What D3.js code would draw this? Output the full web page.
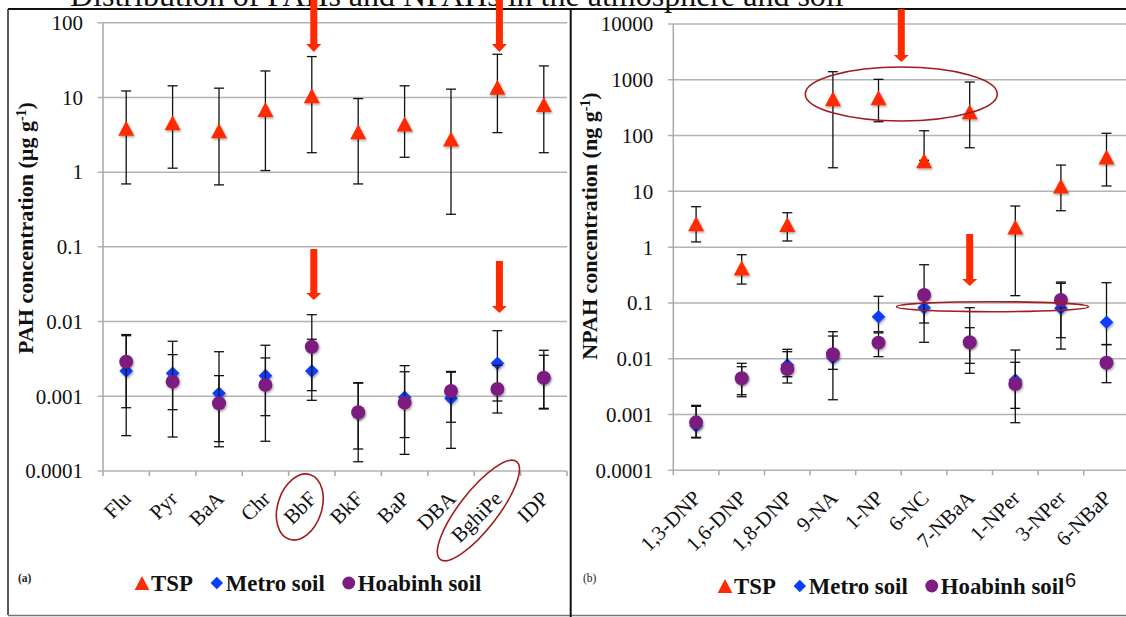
<!DOCTYPE html>
<html>
<head>
<meta charset="utf-8">
<script src="https://cdn.jsdelivr.net/npm/d3@7"></script>
<style>
  html, body { margin: 0; padding: 0; background: #fff; }
  svg { display: block; }
</style>
</head>
<body>
<svg id="chart" width="1126" height="617"></svg>
<script>
// ---------- PAHs (µg g-1) ----------
const pahCats = ["Flu", "Pyr", "BaA", "Chr", "BbF", "BkF", "BaP", "DBA", "BghiPe", "IDP"];
const pahTsp      = [3.87, 4.58, 3.58, 6.90, 10.5, 3.48, 4.42, 2.78, 13.7, 8.01];
const pahTspLow   = [0.695, 1.13, 0.675, 1.05, 1.82, 0.695, 1.58, 0.273, 3.38, 1.82];
const pahTspHigh  = [12.2, 14.3, 13.3, 22.6, 35.2, 9.64, 14.3, 12.9, 37.8, 26.4];
const pahMetro     = [0.00218, 0.00203, 0.0011, 0.00189, 0.00218, 0.00059, 0.00097, 0.00094, 0.00277, 0.00177];
const pahMetroLow  = [0.000297, 0.000285, 0.000211, 0.00025, 0.000883, 0.000133, 0.000167, 0.000201, 0.000865, 0.000676];
const pahMetroHigh = [0.00647, 0.00545, 0.00395, 0.00482, 0.0058, 0.00152, 0.00257, 0.00215, 0.00755, 0.00413];
const pahHoabinh     = [0.0029, 0.00157, 0.000805, 0.00142, 0.00461, 0.00061, 0.000822, 0.00118, 0.00125, 0.00177];
const pahHoabinhLow  = [0.000703, 0.000662, 0.000247, 0.00055, 0.00119, 0.000197, 0.00028, 0.000449, 0.000597, 0.00069];
const pahHoabinhHigh = [0.0067, 0.00361, 0.00189, 0.00326, 0.01236, 0.0015, 0.00213, 0.0021, 0.0026, 0.00354];
const pahTickLabels = ["0.0001", "0.001", "0.01", "0.1", "1", "10", "100"];

// ---------- NPAHs (ng g-1) ----------
const npahCats = ["1,3-DNP", "1,6-DNP", "1,8-DNP", "9-NA", "1-NP", "6-NC", "7-NBaA", "1-NPer", "3-NPer", "6-NBaP"];
const npahTsp      = [2.63, 0.423, 2.55, 458, 475, 35.4, 268, 2.30, 12.5, 41.3];
const npahTspLow   = [1.24, 0.218, 1.29, 26.5, 177, 36, 60.5, 0.135, 4.5, 12.5];
const npahTspHigh  = [5.31, 0.732, 4.14, 1396, 1019, 122, 912, 5.46, 29.6, 110];
const npahMetro     = [0.00063, 0.00446, 0.0077, 0.0104, 0.0566, 0.0822, 0.0197, 0.00416, 0.0801, 0.045];
const npahMetroLow  = [0.00038, 0.00208, 0.00367, 0.00184, 0.0305, 0.0197, 0.00548, 0.000713, 0.0149, 0.0178];
const npahMetroHigh = [0.00146, 0.00828, 0.01475, 0.0305, 0.1315, 0.12, 0.0822, 0.0143, 0.237, 0.2306];
const npahHoabinh     = [0.000724, 0.00446, 0.00655, 0.012, 0.0194, 0.1387, 0.0197, 0.00352, 0.1128, 0.00849];
const npahHoabinhLow  = [0.00039, 0.00226, 0.00476, 0.00646, 0.0109, 0.0437, 0.00828, 0.00129, 0.0238, 0.00372];
const npahHoabinhHigh = [0.0014, 0.00719, 0.01337, 0.0255, 0.029, 0.484, 0.036, 0.00863, 0.225, 0.018];
const npahTickLabels = ["0.0001", "0.001", "0.01", "0.1", "1", "10", "100", "1000", "10000"];

const seriesNames = ["TSP", "Metro soil", "Hoabinh soil"];
const seriesColors = ["#ff2a06", "#0b3ef8", "#7b1f80"];
const seriesShapes = ["triangle", "diamond", "circle"];

const titleText = "Distribution of PAHs and NPAHs in the atmosphere and soil";

const SERIF = "'Liberation Serif','Times New Roman',Times,serif";
const SANS = "'Liberation Sans',Arial,sans-serif";
const svg = d3.select("#chart");

// soft shadow under markers
const defs = svg.append("defs");
const f = defs.append("filter").attr("id", "mshadow")
  .attr("x", "-50%").attr("y", "-50%").attr("width", "200%").attr("height", "200%");
f.append("feDropShadow").attr("dx", 1).attr("dy", 1.5).attr("stdDeviation", 1)
  .attr("flood-color", "#000").attr("flood-opacity", 0.35);

function shapePath(shape) {
  if (shape === "triangle") return "M0,-7.5L8,7.5L-8,7.5Z";
  if (shape === "diamond") return "M0,-6.8L6.8,0L0,6.8L-6.8,0Z";
  return d3.symbol(d3.symbolCircle, Math.PI * 7 * 7)();
}

// ---------- page title (runs off the top edge) and frames ----------
svg.append("text").attr("x", 70).attr("y", 5.5)
  .attr("font-family", SERIF).attr("font-size", 32).attr("fill", "#111")
  .text(titleText);

const frame = svg.append("g");
frame.append("line").attr("x1", 8).attr("x2", 1126).attr("y1", 9).attr("y2", 9)
  .attr("stroke", "#111").attr("stroke-width", 2);
frame.append("line").attr("x1", 8).attr("x2", 8).attr("y1", 9).attr("y2", 615)
  .attr("stroke", "#222").attr("stroke-width", 1.5);
frame.append("line").attr("x1", 8).attr("x2", 1126).attr("y1", 615.5).attr("y2", 615.5)
  .attr("stroke", "#777").attr("stroke-width", 1.5);
frame.append("line").attr("x1", 570.7).attr("x2", 570.7).attr("y1", 9).attr("y2", 617)
  .attr("stroke", "#111").attr("stroke-width", 2);

// ---------- one log-scale panel ----------
function drawPanel(cfg) {
  const g = svg.append("g");
  const x = d3.scaleBand().domain(cfg.cats).range(cfg.xRange).padding(0);
  const y = d3.scaleLog().domain(cfg.domain).range(cfg.yRange);
  const cx = c => x(c) + x.bandwidth() / 2;
  const x0 = cfg.xRange[0], x1 = Math.min(cfg.xRange[1], 1126);
  const tickVals = cfg.tickLabels.map(Number);

  // gridlines with left tick stubs
  g.selectAll("line.grid").data(tickVals).join("line")
    .attr("x1", x0 - 5.5).attr("x2", x1)
    .attr("y1", d => y(d)).attr("y2", d => y(d))
    .attr("stroke", "#b3b3b3").attr("stroke-width", 1.5);
  // value axis line
  g.append("line").attr("x1", x0).attr("x2", x0)
    .attr("y1", y(cfg.domain[0])).attr("y2", y(cfg.domain[1]))
    .attr("stroke", "#a9a9a9").attr("stroke-width", 1.5);
  // category tick marks
  const bounds = d3.range(cfg.cats.length + 1).map(i => x0 + i * x.bandwidth()).filter(v => v <= 1126);
  g.selectAll("line.xt").data(bounds).join("line")
    .attr("x1", d => d).attr("x2", d => d)
    .attr("y1", y(cfg.domain[0])).attr("y2", y(cfg.domain[0]) + 5)
    .attr("stroke", "#a9a9a9").attr("stroke-width", 1.5);

  // value labels
  g.selectAll("text.yl").data(cfg.tickLabels).join("text")
    .attr("x", x0 - 20).attr("y", d => y(+d))
    .attr("dy", "0.35em").attr("text-anchor", "end")
    .attr("font-family", SERIF).attr("font-size", 21).attr("fill", "#111")
    .text(d => d);

  // category labels, slanted
  g.selectAll("text.xl").data(cfg.cats).join("text")
    .attr("transform", d => `translate(${cx(d) + 6},${y(cfg.domain[0]) + 29}) rotate(-45)`)
    .attr("text-anchor", "end")
    .attr("font-family", SERIF).attr("font-size", 21).attr("fill", "#111")
    .text(d => d);

  // axis title
  const t = g.append("text")
    .attr("transform", `translate(${cfg.titleX},${cfg.titleY}) rotate(-90)`)
    .attr("text-anchor", "middle")
    .attr("font-family", SERIF).attr("font-size", 22).attr("font-weight", "bold").attr("fill", "#111");
  t.append("tspan").text(cfg.titleMain);
  t.append("tspan").attr("baseline-shift", "super").attr("font-size", 14).text("-1");
  t.append("tspan").text(")");

  // series: error bars then markers
  cfg.series.forEach((s, si) => {
    const rows = cfg.cats.map((c, i) => ({ c, v: s.values[i], lo: s.low[i], hi: s.high[i] }));
    const eb = g.append("g").attr("stroke", "#111").attr("stroke-width", 1.3);
    eb.selectAll("line.v").data(rows).join("line")
      .attr("x1", d => cx(d.c)).attr("x2", d => cx(d.c))
      .attr("y1", d => y(d.lo)).attr("y2", d => y(d.hi));
    eb.selectAll("line.lo").data(rows).join("line")
      .attr("x1", d => cx(d.c) - 5).attr("x2", d => cx(d.c) + 5)
      .attr("y1", d => y(d.lo)).attr("y2", d => y(d.lo));
    eb.selectAll("line.hi").data(rows).join("line")
      .attr("x1", d => cx(d.c) - 5).attr("x2", d => cx(d.c) + 5)
      .attr("y1", d => y(d.hi)).attr("y2", d => y(d.hi));
    g.append("g").selectAll("path").data(rows).join("path")
      .attr("d", shapePath(seriesShapes[si]))
      .attr("transform", d => `translate(${cx(d.c)},${y(d.v)})`)
      .attr("fill", seriesColors[si])
      .attr("filter", "url(#mshadow)");
  });

  return { x, y, cx, g };
}

const left = drawPanel({
  cats: pahCats, tickLabels: pahTickLabels,
  xRange: [103, 567], yRange: [471, 22.7], domain: [1e-4, 100],
  titleX: 33, titleY: 228, titleMain: "PAH concentration (µg g",
  series: [
    { values: pahTsp, low: pahTspLow, high: pahTspHigh },
    { values: pahMetro, low: pahMetroLow, high: pahMetroHigh },
    { values: pahHoabinh, low: pahHoabinhLow, high: pahHoabinhHigh }
  ]
});

const right = drawPanel({
  cats: npahCats, tickLabels: npahTickLabels,
  xRange: [673.3, 1129.3], yRange: [470.3, 24], domain: [1e-4, 1e4],
  titleX: 597, titleY: 226, titleMain: "NPAH concentration (ng g",
  series: [
    { values: npahTsp, low: npahTspLow, high: npahTspHigh },
    { values: npahMetro, low: npahMetroLow, high: npahMetroHigh },
    { values: npahHoabinh, low: npahHoabinhLow, high: npahHoabinhHigh }
  ]
});

// ---------- highlight arrows and ellipses ----------
const notes = svg.append("g");
function arrow(xc, yTop, yHead, yTip) {
  const p = d3.path();
  p.moveTo(xc - 3.5, yTop); p.lineTo(xc + 3.5, yTop); p.lineTo(xc + 3.5, yHead);
  p.lineTo(xc + 7.5, yHead); p.lineTo(xc, yTip); p.lineTo(xc - 7.5, yHead);
  p.lineTo(xc - 3.5, yHead); p.closePath();
  notes.append("path").attr("d", p.toString()).attr("fill", "#ff2a00");
}
arrow(left.cx("BbF") + 2, 0, 44, 52);
arrow(left.cx("BghiPe") + 2, 0, 44, 52);
arrow(left.cx("BbF") + 2, 249, 293, 300);
arrow(left.cx("BghiPe") + 2, 261, 306, 313);
arrow(right.x("6-NC"), 9, 55, 62);
arrow(right.cx("7-NBaA"), 234, 279, 286);

function ring(xc, yc, rx, ry, rot) {
  notes.append("ellipse")
    .attr("transform", `translate(${xc},${yc}) rotate(${rot})`)
    .attr("rx", rx).attr("ry", ry)
    .attr("fill", "none").attr("stroke", "#a11d1d").attr("stroke-width", 1.6);
}
ring(left.cx("BbF") - 12, 507, 22, 34, 18);
ring(left.cx("BghiPe") - 19, 510.5, 62, 19, -52);
ring(right.x("6-NC"), 94, 96, 27, 0);
ring(right.x("1-NPer"), 306.7, 96, 5, 0);

// ---------- legends ----------
function legend(x0, baseline) {
  const g = svg.append("g");
  let xPos = x0;
  seriesNames.forEach((name, i) => {
    g.append("path").attr("d", shapePath(seriesShapes[i]))
      .attr("transform", `translate(${xPos},${baseline - 8}) scale(0.92)`)
      .attr("fill", seriesColors[i]);
    const t = g.append("text").attr("x", xPos + 9).attr("y", baseline)
      .attr("font-family", SERIF).attr("font-size", 22.8).attr("font-weight", "bold")
      .attr("fill", "#111").text(name);
    xPos = xPos + 9 + t.node().getComputedTextLength() + 24;
  });
}
legend(142, 591);
legend(725, 594);

svg.append("text").attr("x", 18).attr("y", 582).attr("font-family", SERIF)
  .attr("font-size", 11.5).attr("font-weight", "bold").attr("fill", "#222").text("(a)");
svg.append("text").attr("x", 583).attr("y", 582).attr("font-family", SERIF)
  .attr("font-size", 11.5).attr("fill", "#222").text("(b)");
svg.append("text").attr("x", 1065).attr("y", 587).attr("font-family", SANS)
  .attr("font-size", 20).attr("fill", "#111").text("6");
</script>
</body>
</html>
